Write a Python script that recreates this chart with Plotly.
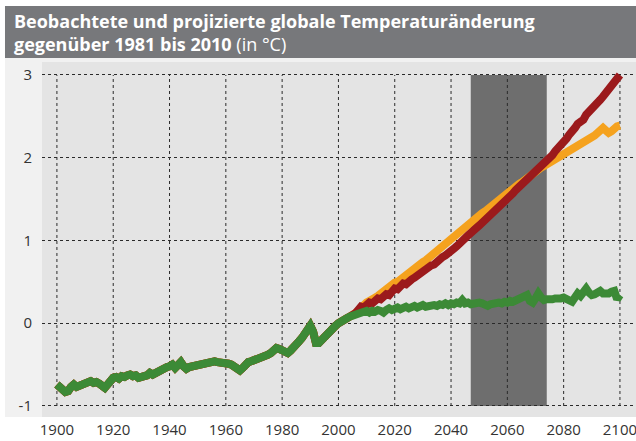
import plotly.graph_objects as go

# years
hist_years = list(range(1900, 2006))
proj_years = list(range(2005, 2101))

# observed / historical run (1900-2005)
hist = [
    -0.74, -0.76, -0.80, -0.83, -0.82, -0.77, -0.74, -0.77, -0.76, -0.74,
    -0.72, -0.71, -0.70, -0.72, -0.71, -0.73, -0.76, -0.78, -0.74, -0.69,
    -0.66, -0.65, -0.67, -0.64, -0.65, -0.63, -0.62, -0.64, -0.63, -0.66,
    -0.66, -0.64, -0.63, -0.60, -0.62, -0.60, -0.58, -0.55, -0.54, -0.53,
    -0.52, -0.50, -0.54, -0.50, -0.47, -0.52, -0.55, -0.53, -0.52, -0.51,
    -0.50, -0.51, -0.49, -0.47, -0.46, -0.45, -0.46, -0.47, -0.47, -0.48,
    -0.48, -0.49, -0.50, -0.53, -0.56, -0.57, -0.54, -0.49, -0.47, -0.46,
    -0.45, -0.43, -0.42, -0.40, -0.39, -0.38, -0.36, -0.33, -0.30, -0.31,
    -0.32, -0.34, -0.36, -0.33, -0.28, -0.25, -0.22, -0.18, -0.14, -0.08,
    -0.03, -0.10, -0.24, -0.24, -0.20, -0.17, -0.13, -0.09, -0.06, -0.03,
    0.00, 0.03, 0.05, 0.06, 0.08, 0.09,
]

# projections 2005-2100
rcp_high = [
    0.09,
    0.12, 0.16, 0.20, 0.19, 0.23, 0.25, 0.24, 0.28, 0.30, 0.29,
    0.33, 0.35, 0.34, 0.39, 0.42, 0.41, 0.45, 0.48, 0.47, 0.52,
    0.53, 0.55, 0.58, 0.60, 0.63, 0.64, 0.68, 0.70, 0.71, 0.75,
    0.77, 0.80, 0.82, 0.84, 0.87, 0.90, 0.93, 0.97, 1.00, 1.02,
    1.06, 1.09, 1.11, 1.15, 1.18, 1.21, 1.24, 1.27, 1.30, 1.33,
    1.37, 1.40, 1.44, 1.47, 1.51, 1.54, 1.57, 1.61, 1.64, 1.67,
    1.71, 1.74, 1.77, 1.80, 1.83, 1.87, 1.90, 1.93, 1.97, 2.00,
    2.03, 2.08, 2.11, 2.16, 2.20, 2.23, 2.28, 2.31, 2.36, 2.41,
    2.43, 2.46, 2.52, 2.55, 2.59, 2.62, 2.67, 2.70, 2.74, 2.78,
    2.82, 2.86, 2.90, 2.96, 3.00,
]

rcp_mid = [
    0.09,
    0.12, 0.15, 0.19, 0.21, 0.25, 0.27, 0.28, 0.31, 0.33, 0.36,
    0.38, 0.40, 0.43, 0.46, 0.49, 0.50, 0.53, 0.56, 0.58, 0.61,
    0.63, 0.66, 0.68, 0.71, 0.74, 0.76, 0.79, 0.82, 0.85, 0.87,
    0.90, 0.93, 0.96, 0.99, 1.01, 1.04, 1.07, 1.10, 1.12, 1.15,
    1.18, 1.22, 1.25, 1.27, 1.30, 1.33, 1.35, 1.38, 1.41, 1.43,
    1.46, 1.48, 1.52, 1.54, 1.57, 1.60, 1.62, 1.65, 1.68, 1.70,
    1.73, 1.76, 1.79, 1.81, 1.84, 1.86, 1.88, 1.90, 1.92, 1.94,
    1.96, 1.98, 2.00, 2.02, 2.04, 2.06, 2.08, 2.09, 2.11, 2.14,
    2.16, 2.17, 2.20, 2.22, 2.24, 2.27, 2.30, 2.34, 2.36, 2.33,
    2.30, 2.32, 2.36, 2.38, 2.39,
]

rcp_low = [
    0.09,
    0.10, 0.13, 0.12, 0.14, 0.15, 0.13, 0.15, 0.14, 0.16, 0.15,
    0.13, 0.16, 0.18, 0.16, 0.17, 0.19, 0.17, 0.18, 0.20, 0.18,
    0.19, 0.21, 0.19, 0.20, 0.22, 0.20, 0.21, 0.23, 0.22, 0.21,
    0.23, 0.22, 0.24, 0.22, 0.24, 0.23, 0.25, 0.24, 0.28, 0.24,
    0.25, 0.23, 0.24, 0.23, 0.25, 0.24, 0.22, 0.21, 0.23, 0.24,
    0.23, 0.25, 0.24, 0.26, 0.25, 0.27, 0.26, 0.28, 0.29, 0.31,
    0.33, 0.34, 0.27, 0.25, 0.30, 0.36, 0.31, 0.28, 0.29, 0.28,
    0.29, 0.30, 0.29, 0.30, 0.31, 0.29, 0.27, 0.26, 0.31, 0.36,
    0.33, 0.38, 0.42, 0.37, 0.34, 0.35, 0.37, 0.39, 0.36, 0.35,
    0.36, 0.38, 0.39, 0.29, 0.34,
]

x_ticks = list(range(1900, 2101, 20))
y_ticks = [-1, 0, 1, 2, 3]
y_labels = ["-1", "0", "1", "2", "3"]
band = [2047, 2074]

title = ("<b>Beobachtete und projizierte globale Temperaturänderung<br>"
         "gegenüber 1981 bis 2010</b> (in °C)")

fig = go.Figure()
series = [
    (rcp_mid, "#f5a21e"),
    (rcp_high, "#9b1a1c"),
    (rcp_low, "#3c8a36"),
]
for vals, col in series:
    fig.add_trace(go.Scatter(x=hist_years + proj_years, y=hist + vals, mode="lines",
                             line=dict(color=col, width=8), hoverinfo="skip"))

shapes = [
    # title bar
    dict(type="rect", xref="paper", yref="paper", x0=-0.0623, x1=1.0, y0=1.0113, y1=1.158,
         fillcolor="#77787b", line_width=0, layer="below"),
    # light strips around plot
    dict(type="rect", xref="paper", yref="paper", x0=-0.0623, x1=0, y0=0, y1=1.0113,
         fillcolor="#f1f1f1", line_width=0, layer="below"),
    dict(type="rect", xref="paper", yref="paper", x0=0, x1=1, y0=1.0, y1=1.0113,
         fillcolor="#f1f1f1", line_width=0, layer="below"),
    # dark band
    dict(type="rect", xref="x", yref="y", x0=band[0], x1=band[1], y0=-1, y1=3,
         fillcolor="#6e6e6e", line_width=0, layer="below"),
]
for t in x_ticks:
    shapes.append(dict(type="line", xref="x", yref="y", x0=t, x1=t, y0=-1, y1=3,
                       line=dict(color="#2a2a2a", width=1, dash="dot"), layer="below"))

fig.update_layout(
    width=636, height=441,
    margin=dict(l=42, r=0, t=62, b=24),
    paper_bgcolor="white",
    plot_bgcolor="#e4e4e4",
    showlegend=False,
    font=dict(family="Open Sans", size=15, color="#333333"),
    shapes=shapes,
    annotations=[dict(text=title, xref="paper", yref="paper", x=-0.0505, y=1.155,
                      xanchor="left", yanchor="top", align="left", showarrow=False,
                      font=dict(family="Open Sans", size=18, color="white"))],
)
fig.update_xaxes(range=[1894.7, 2105.7], tickvals=x_ticks, showgrid=False,
                 zeroline=False, showline=False, ticks="", automargin=False,
                 ticklabelstandoff=2, ticklabeloverflow="allow")
fig.update_yaxes(range=[-1.133, 3.157], tickvals=y_ticks, ticktext=y_labels,
                 showgrid=True, gridcolor="#2a2a2a", griddash="dot", gridwidth=1,
                 zeroline=False, showline=False, ticks="", automargin=False,
                 ticklabelstandoff=9)

fig.write_html("out.html", config={"displayModeBar": False},
               post_script="document.body.style.margin='0px';")
